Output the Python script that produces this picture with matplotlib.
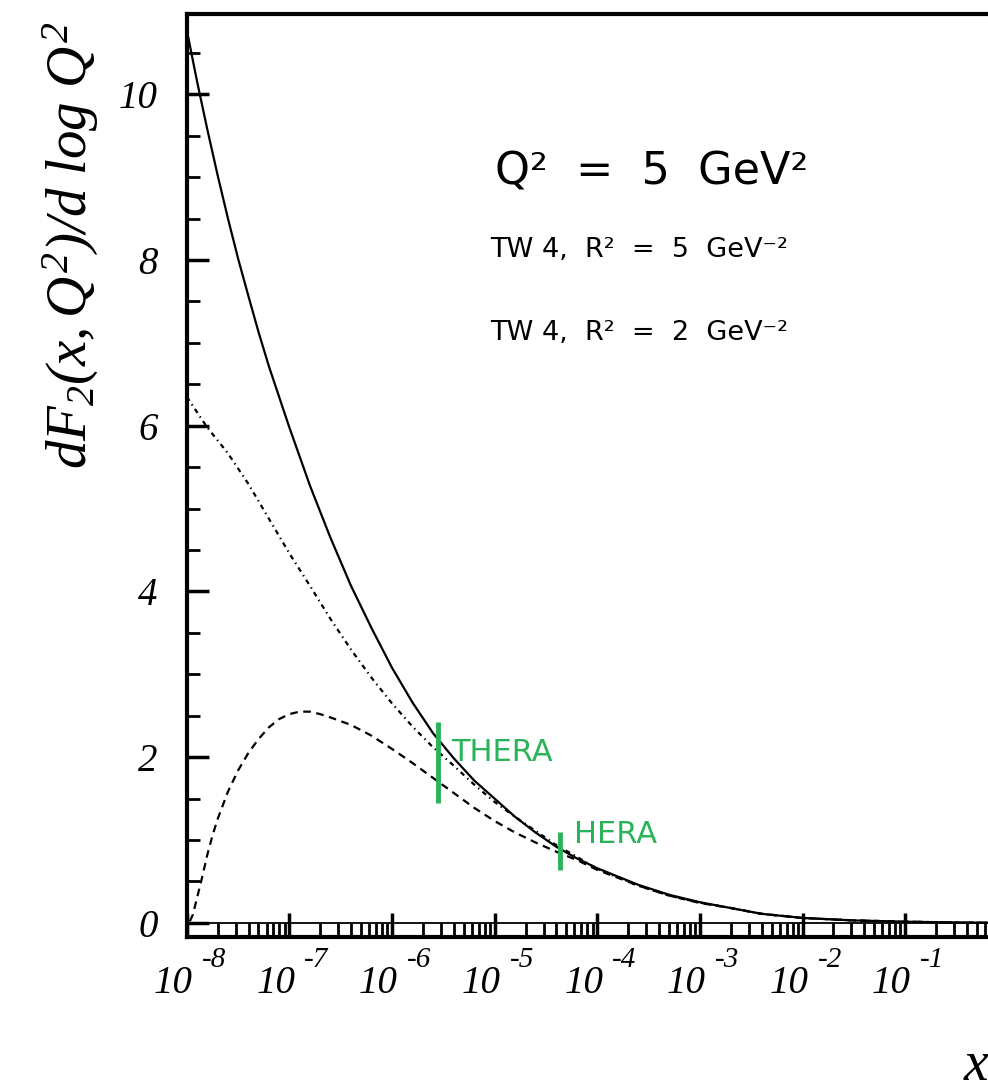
import matplotlib
matplotlib.use('Agg')
import matplotlib.pyplot as plt
import numpy as np
from matplotlib.ticker import LogLocator, MultipleLocator, NullFormatter

plt.rcParams['font.family'] = 'Liberation Serif'
plt.rcParams['font.style'] = 'italic'
plt.rcParams['mathtext.fontset'] = 'custom'
plt.rcParams['mathtext.rm'] = 'Liberation Serif:italic'
plt.rcParams['mathtext.it'] = 'Liberation Serif:italic'
plt.rcParams['lines.scale_dashes'] = False

# curves: log10(x) and dF2/dlogQ^2
logx_solid = [-8.0, -7.9, -7.8, -7.7, -7.6, -7.5, -7.4, -7.3, -7.2, -7.0,
              -6.8, -6.6, -6.4, -6.2, -6.0, -5.8, -5.6, -5.4, -5.2, -5.0,
              -4.8, -4.6, -4.4, -4.2, -4.0, -3.6, -3.3, -3.0, -2.7, -2.4,
              -2.0, -1.5, -1.0, -0.5, 0.0]
f2_solid = [10.78, 10.16, 9.58, 9.03, 8.51, 8.02, 7.57, 7.13, 6.72, 5.98,
            5.28, 4.65, 4.07, 3.56, 3.08, 2.66, 2.29, 1.99, 1.72, 1.50,
            1.28, 1.09, 0.92, 0.78, 0.66, 0.46, 0.34, 0.25, 0.18, 0.11,
            0.06, 0.03, 0.015, 0.005, 0.0]

logx_dashdot = [-8.0, -7.8, -7.6, -7.4, -7.2, -7.0, -6.8, -6.6, -6.4, -6.2,
                -6.0, -5.8, -5.6, -5.4, -5.2, -5.0, -4.8, -4.6, -4.4, -4.2,
                -4.0, -3.6, -3.3, -3.0, -2.7, -2.4, -2.0, -1.5, -1.0, -0.5, 0.0]
f2_dashdot = [6.35, 5.98, 5.67, 5.30, 4.88, 4.46, 4.07, 3.67, 3.30, 2.96,
              2.65, 2.37, 2.12, 1.90, 1.67, 1.46, 1.28, 1.11, 0.94, 0.80,
              0.65, 0.45, 0.33, 0.245, 0.18, 0.11, 0.06, 0.03, 0.015, 0.005, 0.0]

logx_dashed = [-7.97, -7.94, -7.9, -7.85, -7.8, -7.75, -7.7, -7.6, -7.5, -7.4,
               -7.3, -7.2, -7.1, -7.0, -6.9, -6.8, -6.7, -6.6, -6.4, -6.2,
               -6.0, -5.8, -5.6, -5.4, -5.2, -5.0, -4.8, -4.6, -4.4, -4.2,
               -4.0, -3.6, -3.3, -3.0, -2.7, -2.4, -2.0, -1.5, -1.0, -0.5, 0.0]
f2_dashed = [0.02, 0.10, 0.30, 0.55, 0.82, 1.05, 1.25, 1.58, 1.84, 2.05,
             2.22, 2.36, 2.46, 2.52, 2.55, 2.55, 2.52, 2.48, 2.39, 2.26,
             2.10, 1.93, 1.75, 1.57, 1.39, 1.23, 1.09, 0.97, 0.86, 0.76,
             0.64, 0.45, 0.33, 0.24, 0.18, 0.11, 0.06, 0.03, 0.015, 0.005, 0.0]

# experiments reach (green hand marks)
experiments = ['THERA', 'HERA']
exp_logx = [-5.55, -4.36]
exp_low = [1.45, 0.64]
exp_high = [2.42, 1.10]
exp_label_y = [2.06, 1.07]

decades = list(range(-8, 0))
yticks = [0, 2, 4, 6, 8, 10]

fig = plt.figure(figsize=(9.88, 10.84), dpi=100)
ax = fig.add_axes([0.189, 0.1356, 0.831, 0.8515])

ax.plot(10.0 ** np.array(logx_solid), f2_solid, color='black', lw=1.6)
ax.plot(10.0 ** np.array(logx_dashdot), f2_dashdot, color='black', lw=1.6,
        linestyle=(0, (3.5, 3.0, 1.0, 3.0)))
ax.plot(10.0 ** np.array(logx_dashed), f2_dashed, color='black', lw=1.6,
        linestyle=(0, (5.5, 4.0)))
ax.axhline(0, color='black', lw=1.3)

green = '#2bb35a'
for name, lx, lo, hi, ly in zip(experiments, exp_logx, exp_low, exp_high, exp_label_y):
    ax.vlines(10.0 ** lx, lo, hi, color=green, lw=3.5)
    ax.text(10.0 ** (lx + 0.13), ly, name, color=green, fontsize=22,
            family='DejaVu Sans', style='normal', va='center')

ax.set_xscale('log')
ax.set_xlim(1e-8, 1)
ax.set_ylim(-0.17, 10.97)

ax.set_xticks([10.0 ** d for d in decades])
ax.set_xticklabels([])
ax.xaxis.set_minor_locator(LogLocator(base=10, subs=np.arange(2, 10), numticks=20))
ax.xaxis.set_minor_formatter(NullFormatter())
ax.set_yticks(yticks)
ax.set_yticklabels([str(v) for v in yticks])
ax.yaxis.set_minor_locator(MultipleLocator(0.5))

# x tick labels as "10" plus a raised exponent
xtr = ax.get_xaxis_transform()
for d in decades:
    ax.annotate('10', xy=(10.0 ** d, 0), xycoords=xtr, xytext=(4.3, -40),
                textcoords='offset points', ha='right', va='baseline', fontsize=28,
                annotation_clip=False)
    ax.annotate('%d' % d, xy=(10.0 ** d, 0), xycoords=xtr, xytext=(10.8, -21.6),
                textcoords='offset points', ha='left', va='baseline', fontsize=21,
                annotation_clip=False)

ax.tick_params(axis='x', which='major', direction='in', length=17, width=2.5, top=False)
ax.tick_params(axis='x', which='minor', direction='in', length=10, width=2, top=False)
ax.tick_params(axis='y', which='major', direction='in', length=16, width=2.5,
               pad=21, labelsize=28, right=False)
ax.tick_params(axis='y', which='minor', direction='in', length=9, width=2, right=False)

for s in ax.spines.values():
    s.set_linewidth(3)

ax.set_ylabel(r'$dF_2(x,Q^2)/d\ log\ Q^2$', fontsize=41)
ax.yaxis.set_label_coords(-0.104, 0.749)
ax.set_xlabel(r'$x$', fontsize=40)
ax.xaxis.set_label_coords(0.962, -0.112)

ax.text(0.375, 0.829, 'Q²  =  5  GeV²', transform=ax.transAxes, family='DejaVu Sans',
        style='normal', fontsize=32, va='center')
ax.text(0.369, 0.744, 'TW 4,  R²  =  5  GeV⁻²', transform=ax.transAxes,
        family='DejaVu Sans', style='normal', fontsize=19.5, va='center')
ax.text(0.369, 0.654, 'TW 4,  R²  =  2  GeV⁻²', transform=ax.transAxes,
        family='DejaVu Sans', style='normal', fontsize=19.5, va='center')

fig.savefig('out.png', dpi=100)
